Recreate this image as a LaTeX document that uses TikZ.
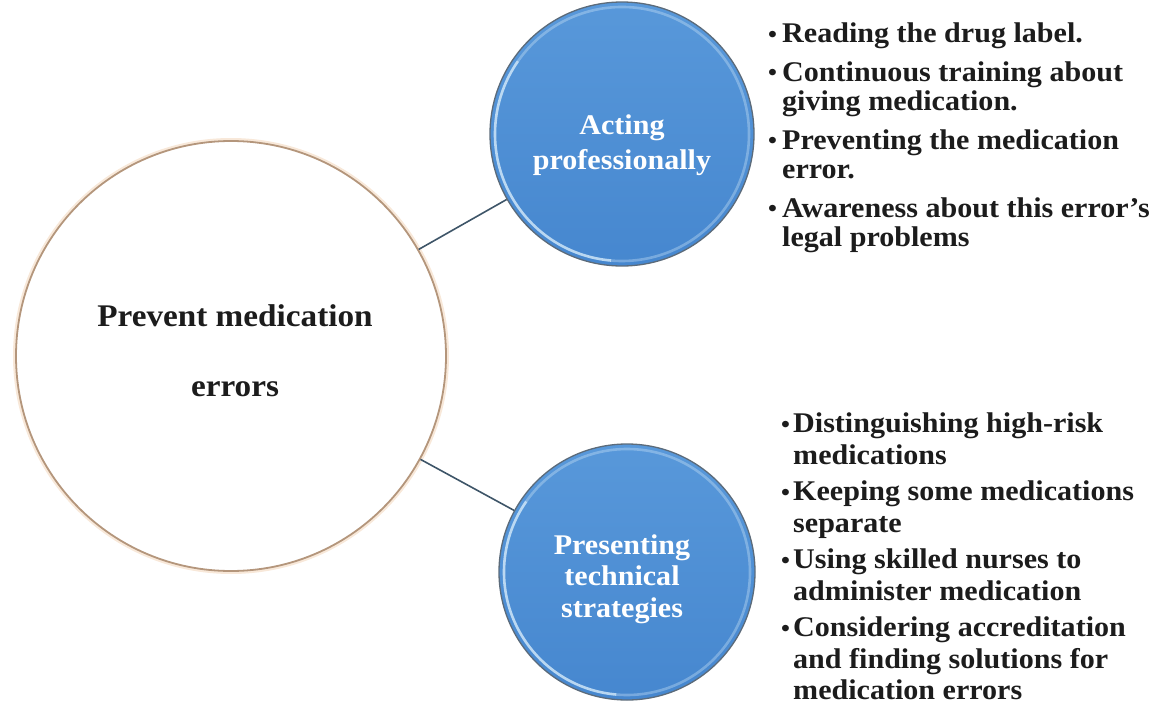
\documentclass[tikz,border=0pt]{standalone}
\usepackage{fontspec}
\setmainfont{Liberation Serif}[FakeStretch=1.055]
\definecolor{hubline}{HTML}{B4967C}
\definecolor{hubglow}{HTML}{F3D9BF}
\definecolor{linkcol}{HTML}{3E5568}
\definecolor{blueTop}{HTML}{5898DA}
\definecolor{blueBot}{HTML}{4687CF}
\definecolor{rimdark}{HTML}{5C6B7A}
\definecolor{rimlight}{HTML}{D6EBFA}
\definecolor{inktext}{HTML}{1C1C1C}
\newcommand\listdot{\raisebox{0.5pt}{\fontsize{24}{24}\selectfont\textbullet}}
\begin{document}
\begin{tikzpicture}[x=1pt,y=-1pt,
  hub/.style={circle, draw=hubline, line width=1.8pt, fill=white,
    minimum size=430pt, inner sep=0pt},
  branch/.style={circle, inner sep=0pt, draw=rimdark, line width=1.3pt,
    top color=blueTop, bottom color=blueBot},
  branchtext/.style={align=center, inner sep=0pt, text=white,
    font=\fontsize{28.5}{35}\selectfont\bfseries},
  hubtext/.style={align=center, inner sep=0pt, text=inktext,
    font=\fontsize{31.5}{70}\selectfont\bfseries},
  itemlist/.style={anchor=north west, align=left, inner sep=0pt, text=inktext},
  link/.style={draw=linkcol, line width=1.6pt},
  rim/.style={draw=rimlight, line width=2.6pt, opacity=0.8}]
\useasboundingbox (0,0) rectangle (1160,704);

% central circle with a faint warm halo
\draw[hubglow, line width=6pt, opacity=0.6] (231,356) circle (215);
\node[hub] (hub) at (231,356) {};
\node[hubtext] (hublabel) at (235,351) {Prevent medication\\errors};

% two blue branch circles
\node[branch, minimum size=264pt] (act) at (622,134) {};
\node[branch, minimum size=256pt] (tech) at (627,572) {};

% light bevel on the lower left rim of each branch circle
\draw[rim] (act.center) ++(95:127) arc[start angle=95, end angle=215, radius=127];
\draw[rim, opacity=0.35] (act.center) ++(215:127) arc[start angle=215, end angle=455, radius=127];
\draw[rim] (tech.center) ++(95:123) arc[start angle=95, end angle=215, radius=123];
\draw[rim, opacity=0.35] (tech.center) ++(215:123) arc[start angle=215, end angle=455, radius=123];

\node[branchtext] (actlabel) at (622,145) {Acting\\professionally};
\node[branchtext, font=\fontsize{28.5}{31.5}\selectfont\bfseries] (techlabel) at (622,579)
  {Presenting\\technical\\strategies};

% connectors
\draw[link] (hub) -- (act);
\draw[link] (hub) -- (tech);

% bullet lists
\node[itemlist, font=\fontsize{28.5}{29.5}\selectfont\bfseries] (actitems) at (768,23) {%
\makebox[14pt][l]{\listdot}Reading the drug label.\\[9pt]
\makebox[14pt][l]{\listdot}Continuous training about\\
\hspace*{14pt}giving medication.\\[9pt]
\makebox[14pt][l]{\listdot}Preventing the medication\\
\hspace*{14pt}error.\\[9pt]
\makebox[14pt][l]{\listdot}Awareness about this error’s\\
\hspace*{14pt}legal problems};

\node[itemlist, font=\fontsize{28.5}{31.5}\selectfont\bfseries] (techitems) at (781,413) {%
\makebox[12pt][l]{\listdot}Distinguishing high-risk\\
\hspace*{12pt}medications\\[5pt]
\makebox[12pt][l]{\listdot}Keeping some medications\\
\hspace*{12pt}separate\\[5pt]
\makebox[12pt][l]{\listdot}Using skilled nurses to\\
\hspace*{12pt}administer medication\\[5pt]
\makebox[12pt][l]{\listdot}Considering accreditation\\
\hspace*{12pt}and finding solutions for\\
\hspace*{12pt}medication errors};
\end{tikzpicture}
\end{document}
